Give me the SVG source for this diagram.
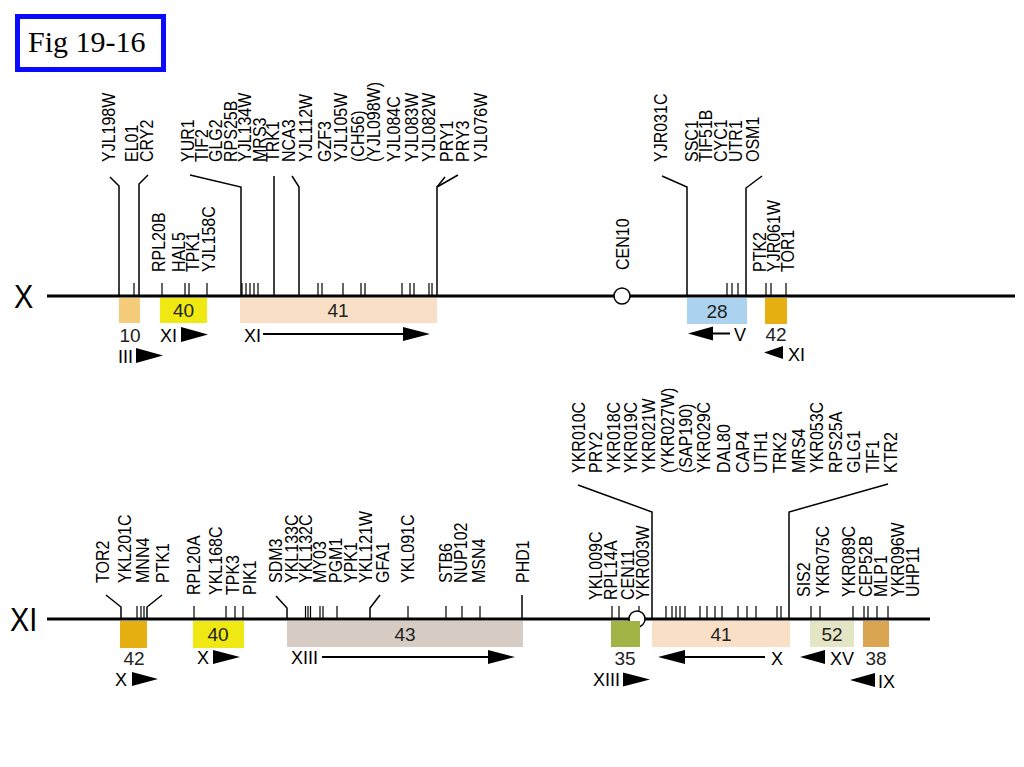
<svg xmlns="http://www.w3.org/2000/svg" width="1024" height="767" viewBox="0 0 1024 767">
<style>
.lbl{font-family:"Liberation Sans","Arial",sans-serif;font-size:18px;fill:#000}
.num{font-family:"Liberation Sans","Arial",sans-serif;font-size:19px;fill:#222;text-anchor:middle}
.sm{font-family:"Liberation Sans","Arial",sans-serif;font-size:18px;fill:#000}
.chr{font-family:"Liberation Sans","Arial",sans-serif;font-size:34px;fill:#000}
.ax{stroke:#000;stroke-width:3;fill:none}
.ld{stroke:#000;stroke-width:1.5;fill:none}
.tk{stroke:#000;stroke-width:1.2}
.cen{fill:#fff;stroke:#000;stroke-width:1.5}
.tri{fill:#000}
.arl{stroke:#000;stroke-width:2}
</style>
<rect width="1024" height="767" fill="#fff"/>
<g id="title">
<rect x="17.5" y="16.5" width="146" height="53" fill="#fff" stroke="#0a0aff" stroke-width="5"/>
<text x="28" y="52" font-family="Liberation Serif, Times New Roman, serif" font-size="30" fill="#000">Fig 19-16</text>
</g>

<g id="chromosome-X">
<line class="ax" x1="47" y1="296" x2="1015" y2="296"/>
<text class="chr" transform="translate(14,308) scale(0.85,1)">X</text>
</g>
<g id="chromosome-XI">
<line class="ax" x1="47" y1="619" x2="930" y2="619"/>
<text class="chr" transform="translate(10,631) scale(0.85,1)">XI</text>
</g>

<g id="connectors">
<polyline class="ld" points="119,296 119,186 110,177"/>
<polyline class="ld" points="139,296 139,184 148,175"/>
<polyline class="ld" points="241,296 241,187 190,175"/>
<polyline class="ld" points="274,296 274,176"/>
<polyline class="ld" points="299,296 299,187 292,176"/>
<polyline class="ld" points="437,296 437,187 458,175"/>
<line class="ld" x1="437" y1="187" x2="445" y2="177"/>
<polyline class="ld" points="687,296 687,187 662,176"/>
<polyline class="ld" points="746,296 746,188 762,176"/>
<path class="tk" d="M134,296V283M162,296V283M185,296V283M189,296V283M207,296V283M242,296V283M246,296V283M250,296V283M254,296V283M258,296V283M318,296V283M322,296V283M343,296V283M361,296V283M365,296V283M402,296V283M410,296V283M414,296V283M429,296V283M432,296V283M727,296V283M732,296V283M738,296V283M766,296V283M771,296V283M786,296V283"/>
<polyline class="ld" points="121,619 121,607 106,595"/>
<polyline class="ld" points="147,619 147,607 162,595"/>
<polyline class="ld" points="287,619 287,608 276,596"/>
<polyline class="ld" points="370,619 370,608 380,595"/>
<polyline class="ld" points="522,619 522,595"/>
<polyline class="ld" points="652,619 652,512 578,485"/>
<polyline class="ld" points="789,619 789,512 888,484"/>
<path class="tk" d="M137,619V606M141,619V606M144,619V606M194,619V606M226,619V606M235,619V606M243,619V606M305.5,619V606M308,619V606M310.5,619V606M320,619V606M323,619V606M337,619V606M408,619V606M446,619V606M462,619V606M480,619V606M612,619V606M619,619V606M639,619V606M666,619V606M672,619V606M676,619V606M680,619V606M685,619V606M700,619V606M707,619V606M715,619V606M722,619V606M738,619V606M747,619V606M756,619V606M777,619V606M781,619V606M811,619V606M820,619V606M853,619V606M864,619V606M868,619V606M877,619V606M888,619V606"/>
</g>

<g id="cen10"><circle class="cen" cx="622" cy="296" r="8"/></g>
<g id="cen11"><circle class="cen" cx="637" cy="619" r="8"/></g>

<g id="block-10">
<rect x="119" y="298" width="21" height="25" fill="#f5cc7a"/>
<text class="num" x="130" y="342" font-size="18">10</text>
<text class="sm" x="118" y="363">III</text>
<polygon class="tri" points="136,348 136,363 163,355.5"/>
</g>
<g id="block-40-top">
<rect x="160" y="298" width="47" height="25" fill="#efe812"/>
<text class="num" x="183.5" y="317">40</text>
<text class="sm" x="160" y="342">XI</text>
<polygon class="tri" points="181,327 181,342 208,334.5"/>
</g>
<g id="block-41-top">
<rect x="240" y="298" width="197" height="25" fill="#f9dfc5"/>
<text class="num" x="338" y="317">41</text>
<text class="sm" x="244" y="342">XI</text>
<line class="arl" x1="263" y1="334" x2="405" y2="334"/>
<polygon class="tri" points="403,327 403,341 430,334"/>
</g>
<g id="block-28">
<rect x="687" y="298" width="60" height="26" fill="#abd3ef"/>
<text class="num" x="717" y="318">28</text>
<polygon class="tri" points="688,333.5 713,326.5 713,340.5"/>
<line class="arl" x1="711" y1="333.5" x2="730" y2="333.5"/>
<text class="sm" x="734" y="341">V</text>
</g>
<g id="block-42-top">
<rect x="765" y="298" width="22" height="26" fill="#e6b012"/>
<text class="num" x="776" y="341">42</text>
<polygon class="tri" points="764,352.5 783,346 783,359"/>
<text class="sm" x="788" y="361">XI</text>
</g>

<g id="block-42-bottom">
<rect x="120" y="621" width="27" height="27" fill="#e6b012"/>
<text class="num" x="134" y="665">42</text>
<text class="sm" x="115" y="686">X</text>
<polygon class="tri" points="132,672 132,686 158,679"/>
</g>
<g id="block-40-bottom">
<rect x="193" y="621" width="51" height="27" fill="#efe812"/>
<text class="num" x="218" y="641">40</text>
<text class="sm" x="197" y="664">X</text>
<polygon class="tri" points="213,650 213,664 240,657"/>
</g>
<g id="block-43">
<rect x="287" y="621" width="236" height="26" fill="#d6ccc4"/>
<text class="num" x="405" y="641">43</text>
<text class="sm" x="291" y="664">XIII</text>
<line class="arl" x1="322" y1="657" x2="490" y2="657"/>
<polygon class="tri" points="488,650 488,664 515,657"/>
</g>
<g id="block-35">
<rect x="611" y="621" width="29" height="26" fill="#a2b445"/>
<text class="num" x="625" y="665">35</text>
<text class="sm" x="593" y="686">XIII</text>
<polygon class="tri" points="623,672.5 623,686.5 650,679.5"/>
</g>
<g id="block-41-bottom">
<rect x="652" y="621" width="138" height="26" fill="#f9dfc5"/>
<text class="num" x="721" y="641">41</text>
<polygon class="tri" points="658,657 685,650 685,664"/>
<line class="arl" x1="683" y1="657" x2="765" y2="657"/>
<text class="sm" x="771" y="665">X</text>
</g>
<g id="block-52">
<rect x="810" y="621" width="44" height="26" fill="#e4e5c4"/>
<text class="num" x="832" y="641">52</text>
<polygon class="tri" points="800,657 825,650 825,664"/>
<text class="sm" x="830" y="665">XV</text>
</g>
<g id="block-38">
<rect x="863" y="621" width="26" height="26" fill="#d9a550"/>
<text class="num" x="876" y="665">38</text>
<polygon class="tri" points="850,680 875,673 875,687"/>
<text class="sm" x="878" y="688">IX</text>
</g>

<g id="labels-X-1" class="lbl">
<text transform="translate(115,162) rotate(-90) scale(0.89,1)">YJL198W</text>
<text transform="translate(138,162) rotate(-90) scale(0.89,1)">EL01</text>
<text transform="translate(153,162) rotate(-90) scale(0.89,1)">CRY2</text>
</g>
<g id="labels-X-2" class="lbl">
<text transform="translate(194,162) rotate(-90) scale(0.89,1)">YUR1</text>
<text transform="translate(208,162) rotate(-90) scale(0.89,1)">TIF2</text>
<text transform="translate(222,162) rotate(-90) scale(0.89,1)">GLG2</text>
<text transform="translate(237,162) rotate(-90) scale(0.89,1)">RPS25B</text>
<text transform="translate(251,162) rotate(-90) scale(0.89,1)">YJL134W</text>
<text transform="translate(266,162) rotate(-90) scale(0.89,1)">MRS3</text>
<text transform="translate(279,162) rotate(-90) scale(0.89,1)">TRK1</text>
<text transform="translate(295,162) rotate(-90) scale(0.89,1)">NCA3</text>
<text transform="translate(312,162) rotate(-90) scale(0.89,1)">YJL112W</text>
<text transform="translate(331,162) rotate(-90) scale(0.89,1)">GZF3</text>
<text transform="translate(347,162) rotate(-90) scale(0.89,1)">YJL105W</text>
<text transform="translate(364,162) rotate(-90) scale(0.89,1)">(CH56)</text>
<text transform="translate(380,162) rotate(-90) scale(0.89,1)">(YJL098W)</text>
<text transform="translate(400,162) rotate(-90) scale(0.89,1)">YJL084C</text>
<text transform="translate(418,162) rotate(-90) scale(0.89,1)">YJL083W</text>
<text transform="translate(435,162) rotate(-90) scale(0.89,1)">YJL082W</text>
<text transform="translate(453,162) rotate(-90) scale(0.89,1)">PRY1</text>
<text transform="translate(469,162) rotate(-90) scale(0.89,1)">PRY3</text>
<text transform="translate(487,162) rotate(-90) scale(0.89,1)">YJL076W</text>
</g>
<g id="labels-X-3" class="lbl">
<text transform="translate(165,272) rotate(-90) scale(0.89,1)">RPL20B</text>
<text transform="translate(185,272) rotate(-90) scale(0.89,1)">HAL5</text>
<text transform="translate(199,272) rotate(-90) scale(0.89,1)">TPK1</text>
<text transform="translate(215,272) rotate(-90) scale(0.89,1)">YJL158C</text>
</g>
<g id="label-CEN10" class="lbl">
<text transform="translate(629,270) rotate(-90) scale(0.89,1)">CEN10</text>
</g>
<g id="labels-X-4" class="lbl">
<text transform="translate(667,162) rotate(-90) scale(0.89,1)">YJR031C</text>
<text transform="translate(698,162) rotate(-90) scale(0.89,1)">SSC1</text>
<text transform="translate(712,162) rotate(-90) scale(0.89,1)">TIF51B</text>
<text transform="translate(727,162) rotate(-90) scale(0.89,1)">CYC1</text>
<text transform="translate(742,162) rotate(-90) scale(0.89,1)">UTR1</text>
<text transform="translate(759,162) rotate(-90) scale(0.89,1)">OSM1</text>
</g>
<g id="labels-X-5" class="lbl">
<text transform="translate(766,272) rotate(-90) scale(0.89,1)">PTK2</text>
<text transform="translate(780,272) rotate(-90) scale(0.89,1)">YJR061W</text>
<text transform="translate(794,272) rotate(-90) scale(0.89,1)">TOR1</text>
</g>

<g id="labels-XI-1" class="lbl">
<text transform="translate(109,583) rotate(-90) scale(0.89,1)">TOR2</text>
<text transform="translate(131,583) rotate(-90) scale(0.89,1)">YKL201C</text>
<text transform="translate(149,583) rotate(-90) scale(0.89,1)">MNN4</text>
<text transform="translate(169,583) rotate(-90) scale(0.89,1)">PTK1</text>
</g>
<g id="labels-XI-2" class="lbl">
<text transform="translate(200,595) rotate(-90) scale(0.89,1)">RPL20A</text>
<text transform="translate(222,595) rotate(-90) scale(0.89,1)">YKL168C</text>
<text transform="translate(239,595) rotate(-90) scale(0.89,1)">TPK3</text>
<text transform="translate(256,595) rotate(-90) scale(0.89,1)">PIK1</text>
</g>
<g id="labels-XI-3" class="lbl">
<text transform="translate(282,583) rotate(-90) scale(0.89,1)">SDM3</text>
<text transform="translate(298,583) rotate(-90) scale(0.89,1)">YKL133C</text>
<text transform="translate(312,583) rotate(-90) scale(0.89,1)">YKL132C</text>
<text transform="translate(326,583) rotate(-90) scale(0.89,1)">MY03</text>
<text transform="translate(342,583) rotate(-90) scale(0.89,1)">PGM1</text>
<text transform="translate(357,583) rotate(-90) scale(0.89,1)">YPK1</text>
<text transform="translate(372,583) rotate(-90) scale(0.89,1)">YKL121W</text>
<text transform="translate(389,583) rotate(-90) scale(0.89,1)">GFA1</text>
<text transform="translate(414,583) rotate(-90) scale(0.89,1)">YKL091C</text>
<text transform="translate(452,583) rotate(-90) scale(0.89,1)">STB6</text>
<text transform="translate(467,583) rotate(-90) scale(0.89,1)">NUP102</text>
<text transform="translate(485,583) rotate(-90) scale(0.89,1)">MSN4</text>
<text transform="translate(529,583) rotate(-90) scale(0.89,1)">PHD1</text>
</g>
<g id="labels-XI-4" class="lbl">
<text transform="translate(585,473) rotate(-90) scale(0.89,1)">YKR010C</text>
<text transform="translate(602,473) rotate(-90) scale(0.89,1)">PRY2</text>
<text transform="translate(620,473) rotate(-90) scale(0.89,1)">YKR018C</text>
<text transform="translate(637,473) rotate(-90) scale(0.89,1)">YKR019C</text>
<text transform="translate(655,473) rotate(-90) scale(0.89,1)">YKR021W</text>
<text transform="translate(674,473) rotate(-90) scale(0.89,1)">(YKR027W)</text>
<text transform="translate(692,473) rotate(-90) scale(0.89,1)">(SAP190)</text>
<text transform="translate(710,473) rotate(-90) scale(0.89,1)">YKR029C</text>
<text transform="translate(730,473) rotate(-90) scale(0.89,1)">DAL80</text>
<text transform="translate(749,473) rotate(-90) scale(0.89,1)">CAP4</text>
<text transform="translate(767,473) rotate(-90) scale(0.89,1)">UTH1</text>
<text transform="translate(786,473) rotate(-90) scale(0.89,1)">TRK2</text>
<text transform="translate(805,473) rotate(-90) scale(0.89,1)">MRS4</text>
<text transform="translate(823,473) rotate(-90) scale(0.89,1)">YKR053C</text>
<text transform="translate(842,473) rotate(-90) scale(0.89,1)">RPS25A</text>
<text transform="translate(860,473) rotate(-90) scale(0.89,1)">GLG1</text>
<text transform="translate(879,473) rotate(-90) scale(0.89,1)">TIF1</text>
<text transform="translate(897,473) rotate(-90) scale(0.89,1)">KTR2</text>
</g>
<g id="labels-XI-5" class="lbl">
<text transform="translate(602,600) rotate(-90) scale(0.89,1)">YKL009C</text>
<text transform="translate(617,600) rotate(-90) scale(0.89,1)">RPL14A</text>
<text transform="translate(634,600) rotate(-90) scale(0.89,1)">CEN11</text>
<text transform="translate(649,600) rotate(-90) scale(0.89,1)">YKR003W</text>
</g>
<g id="labels-XI-6" class="lbl">
<text transform="translate(810,597) rotate(-90) scale(0.89,1)">SIS2</text>
<text transform="translate(829,597) rotate(-90) scale(0.89,1)">YKR075C</text>
<text transform="translate(855,597) rotate(-90) scale(0.89,1)">YKR089C</text>
<text transform="translate(872,597) rotate(-90) scale(0.89,1)">CEP52B</text>
<text transform="translate(887,597) rotate(-90) scale(0.89,1)">MLP1</text>
<text transform="translate(904,597) rotate(-90) scale(0.89,1)">YKR096W</text>
<text transform="translate(919,597) rotate(-90) scale(0.89,1)">UHP11</text>
</g>
</svg>
